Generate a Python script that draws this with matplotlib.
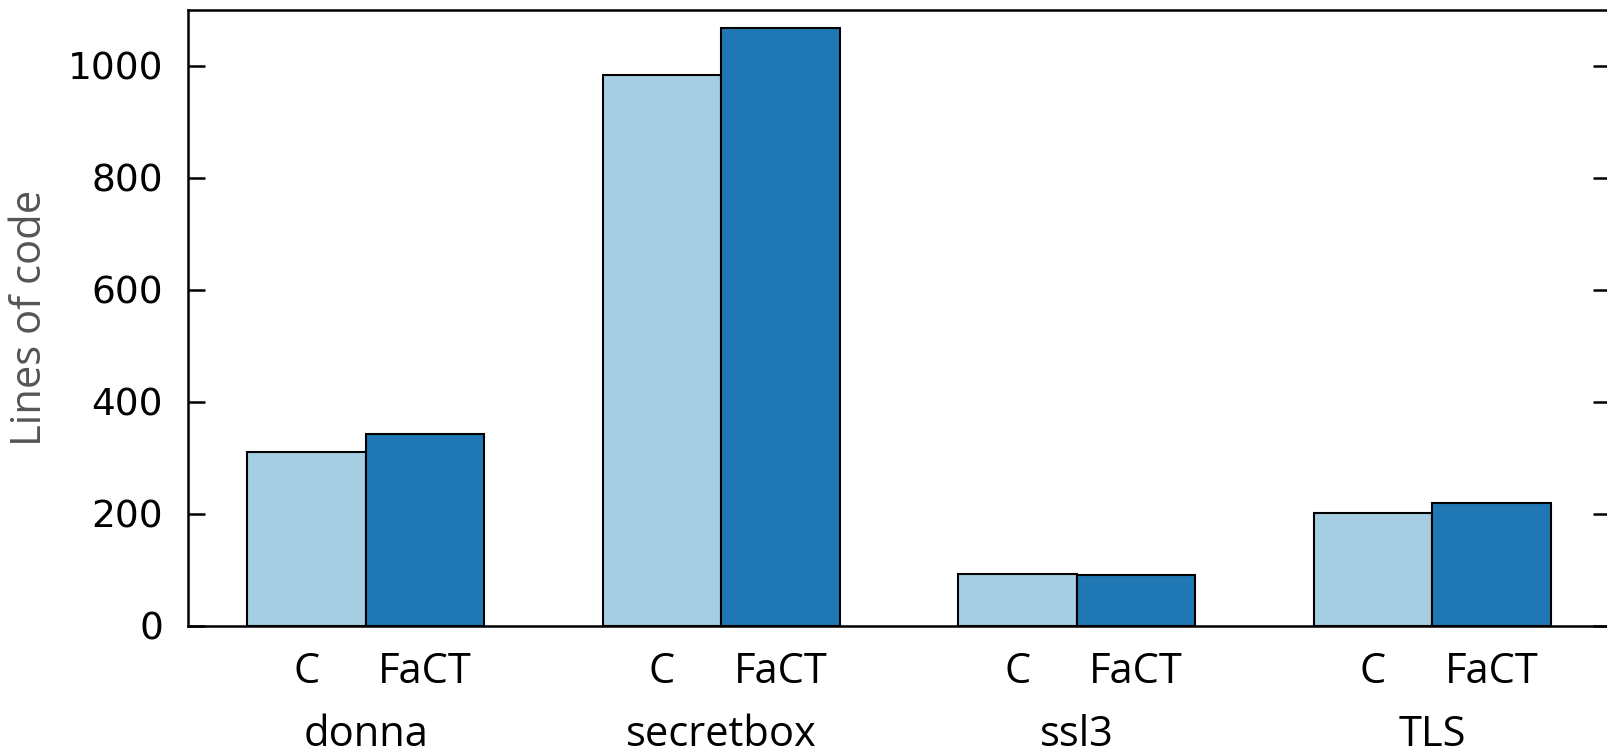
import numpy as np
import matplotlib.pyplot as plt
from matplotlib.transforms import blended_transform_factory

benchmarks = ['donna', 'secretbox', 'ssl3', 'TLS']
langs = ['C', 'FaCT']
loc_c = [310, 984, 92, 201]
loc_fact = [342, 1068, 91, 219]

light = '#a6cee3'
dark = '#1f78b4'
label_font = ['Open Sans', 'DejaVu Sans']

fig = plt.figure(figsize=(16.08, 7.51), dpi=100)
# the right spine sits just past the figure edge
ax = fig.add_axes([188 / 1608, 125 / 751, 1422 / 1608, 616 / 751])

x = np.arange(len(benchmarks))
w = 1 / 3
ax.bar(x - w / 2, loc_c, w, color=light, edgecolor='black', linewidth=1.5)
ax.bar(x + w / 2, loc_fact, w, color=dark, edgecolor='black', linewidth=1.5)

ax.set_xlim(-0.5, len(benchmarks) - 0.5)
ax.set_ylim(0, 1100)
ax.set_yticks([0, 200, 400, 600, 800, 1000])

for s in ax.spines.values():
    s.set_linewidth(1.8)

ax.tick_params(axis='y', direction='in', length=12, width=1.8,
               left=True, right=True, labelsize=27, pad=18)

# per-bar labels and group names underneath
ticks = np.concatenate([x - w / 2, x + w / 2])
ax.set_xticks(ticks)
ax.set_xticklabels([langs[0]] * len(x) + [langs[1]] * len(x), fontsize=30,
                   family=label_font)
ax.tick_params(axis='x', length=0, pad=18)

trans = blended_transform_factory(ax.transData, ax.transAxes)
for xi, name in zip(x, benchmarks):
    ax.text(xi, -0.177, name, transform=trans, ha='center', va='center',
            fontsize=30, family=label_font)

ax.set_ylabel('Lines of code', fontsize=30, color='#555555',
              family=label_font, labelpad=12)

fig.savefig('out.png', dpi=100)
